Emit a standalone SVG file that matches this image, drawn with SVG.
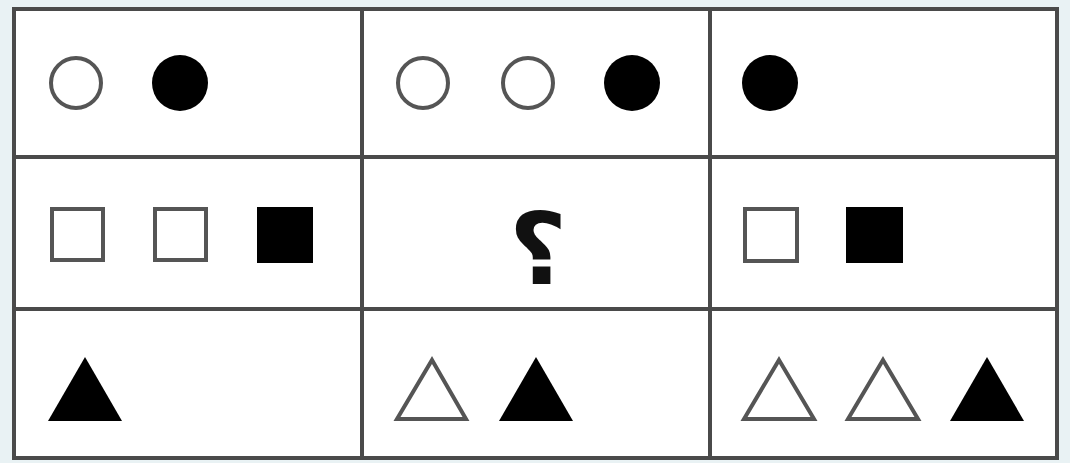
<svg xmlns="http://www.w3.org/2000/svg" width="1070" height="463" viewBox="0 0 1070 463">
<style>
.grid{fill:none;stroke:#4a4a4a;stroke-width:4}
.hol{fill:#fff;stroke:#555;stroke-width:4;stroke-linejoin:miter}
.sol{fill:#000;stroke:none}
.q{font-family:"DejaVu Sans",serif;font-weight:bold;font-size:100px;fill:#111}
</style>
<rect x="0" y="0" width="1070" height="463" fill="#e9f2f4"/>
<g id="table">
<rect x="14" y="9" width="1043" height="449" style="fill:#fff;stroke:#4a4a4a;stroke-width:4"/>
</g>
<g id="gridlines">
<line class="grid" x1="362" y1="9" x2="362" y2="458"/>
<line class="grid" x1="710" y1="9" x2="710" y2="458"/>
<line class="grid" x1="14" y1="157" x2="1057" y2="157"/>
<line class="grid" x1="14" y1="309" x2="1057" y2="309"/>
</g>
<g id="r1c1">
<circle class="hol" cx="76" cy="83" r="25"/>
<circle class="sol" cx="180" cy="83" r="28"/>
</g>
<g id="r1c2">
<circle class="hol" cx="423" cy="83" r="25"/>
<circle class="hol" cx="528" cy="83" r="25"/>
<circle class="sol" cx="632" cy="83" r="28"/>
</g>
<g id="r1c3">
<circle class="sol" cx="770" cy="83" r="28"/>
</g>
<g id="r2c1">
<rect class="hol" x="52" y="209" width="51" height="51"/>
<rect class="hol" x="155" y="209" width="51" height="51"/>
<rect class="sol" x="257" y="207" width="56" height="56"/>
</g>
<g id="r2c2">
<text class="q" x="538" y="284" text-anchor="middle">؟</text>
</g>
<g id="r2c3">
<rect class="hol" x="745" y="209" width="52" height="52"/>
<rect class="sol" x="846" y="207" width="57" height="56"/>
</g>
<g id="r3c1">
<polygon class="sol" points="85,357 122,421 48,421"/>
</g>
<g id="r3c2">
<polygon class="hol" points="432,360 466,419 397,419"/>
<polygon class="sol" points="536,357 573,421 499,421"/>
</g>
<g id="r3c3">
<polygon class="hol" points="779,360 814,419 744,419"/>
<polygon class="hol" points="883,360 918,419 848,419"/>
<polygon class="sol" points="987,357 1024,421 950,421"/>
</g>
</svg>
